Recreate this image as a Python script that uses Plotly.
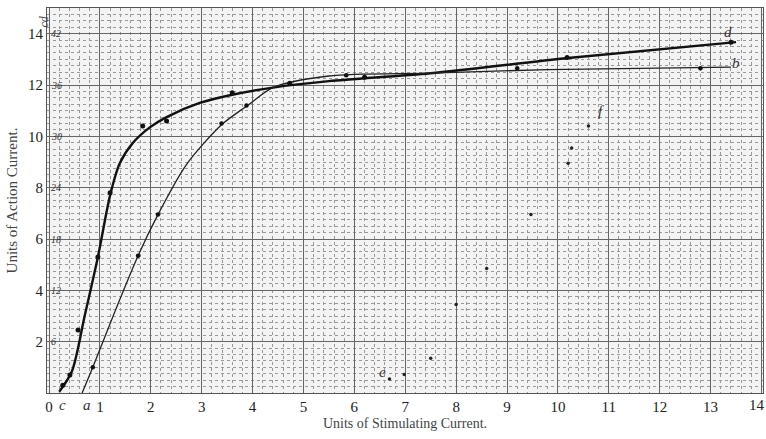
import plotly.graph_objects as go

# Curve c -> d (thick): observed points and drawn curve
c_pts_x = [0.27, 0.41, 0.57, 0.96, 1.2, 1.84, 2.31, 3.6, 4.73, 6.2, 10.18, 13.4]
c_pts_y = [0.3, 0.7, 2.45, 5.3, 7.8, 10.4, 10.6, 11.7, 12.07, 12.3, 13.07, 13.67]
c_line_x = [0.2, 0.45, 0.7, 0.96, 1.2, 1.39, 1.65, 1.98, 2.31, 2.96, 3.6, 4.4, 5.5, 7.5, 10.2, 13.5]
c_line_y = [0.05, 0.85, 3.0, 5.3, 7.7, 8.95, 9.75, 10.35, 10.75, 11.3, 11.62, 11.9, 12.15, 12.46, 13.05, 13.67]

# Curve a -> b (thin)
a_pts_x = [0.86, 1.75, 2.14, 3.39, 3.88, 5.84, 9.2, 12.8]
a_pts_y = [1.0, 5.35, 6.95, 10.5, 11.2, 12.38, 12.65, 12.65]
a_line_x = [0.65, 0.86, 1.3, 1.75, 2.14, 2.7, 3.39, 3.9, 4.4, 5.5, 7.5, 9.8, 13.4]
a_line_y = [0.0, 1.0, 3.2, 5.35, 6.95, 8.9, 10.45, 11.2, 11.9, 12.35, 12.46, 12.6, 12.7]

# Scattered points e -> f
ef_x = [6.69, 6.98, 7.5, 8.0, 8.6, 9.47, 10.2, 10.27, 10.6]
ef_y = [0.55, 0.72, 1.35, 3.45, 4.85, 6.95, 8.95, 9.55, 10.4]

y_ticks = [2, 4, 6, 8, 10, 12, 14]
y_tick_text = ["2", "4", "6", "8", "10", "12", "14"]
y2_tick_text = ["6", "12", "18", "24", "30", "36", "42"]
x_ticks = list(range(0, 15))

serif = "Liberation Serif, DejaVu Serif, serif"

fig = go.Figure()
fig.add_trace(go.Scatter(x=c_line_x, y=c_line_y, mode="lines", line=dict(color="#111", width=2.4, shape="spline", smoothing=0.8), hoverinfo="skip"))
fig.add_trace(go.Scatter(x=a_line_x, y=a_line_y, mode="lines", line=dict(color="#222", width=1.3, shape="spline", smoothing=0.8), hoverinfo="skip"))
fig.add_trace(go.Scatter(x=c_pts_x, y=c_pts_y, mode="markers", marker=dict(color="#111", size=5)))
fig.add_trace(go.Scatter(x=a_pts_x, y=a_pts_y, mode="markers", marker=dict(color="#111", size=4.5)))
fig.add_trace(go.Scatter(x=ef_x, y=ef_y, mode="markers", marker=dict(color="#222", size=3.5)))

# secondary scale labels just inside the left edge
for yv, txt in zip(y_ticks, y2_tick_text):
    fig.add_annotation(xref="paper", x=0.003, y=yv, text="<i>" + txt + "</i>", showarrow=False,
                       xanchor="left", font=dict(family=serif, size=10, color="#333"))

# last x tick label (would be clipped at the page edge as a normal tick label)
fig.add_annotation(x=x_ticks[-1], yref="paper", y=0, yanchor="top", yshift=-2, xshift=-4,
                   text=str(x_ticks[-1]), showarrow=False, font=dict(family=serif, size=15, color="#222"))

# curve letters on the x axis
for t, xv in [("c", 0.27), ("a", 0.75)]:
    fig.add_annotation(x=xv, yref="paper", y=0, yanchor="top", yshift=-2, text="<i>" + t + "</i>",
                       showarrow=False, font=dict(family=serif, size=15, color="#333"))

labels = [("d", 13.35, 14.05), ("b", 13.5, 12.85), ("f", 10.85, 11.0), ("e", 6.55, 0.8)]
for t, x, y in labels:
    fig.add_annotation(x=x, y=y, text="<i>" + t + "</i>", showarrow=False,
                       font=dict(family=serif, size=15, color="#333"))
fig.add_annotation(xref="paper", yref="paper", x=-0.017, y=0.985, text="<i>cd</i>", textangle=-90,
                   showarrow=False, font=dict(family=serif, size=12, color="#444"))

fig.update_layout(
    width=766, height=439,
    margin=dict(l=47, r=3, t=8, b=46),
    paper_bgcolor="white", plot_bgcolor="#f3f3f3",
    showlegend=False,
    font=dict(family=serif, color="#333"),
    xaxis=dict(range=[-0.04, 14.03], tickvals=x_ticks, ticks="", showline=True, linecolor="#555", mirror=True,
               showgrid=True, gridcolor="#666", gridwidth=1, zeroline=False,
               tickfont=dict(family=serif, size=15, color="#222"),
               minor=dict(dtick=0.2, showgrid=True, gridcolor="#999", griddash="dot", gridwidth=1),
               title=dict(text="Units of Stimulating Current.", font=dict(family=serif, size=14, color="#444"), standoff=4)),
    yaxis=dict(range=[0, 15], tickvals=y_ticks, ticktext=y_tick_text, ticks="", showline=True, linecolor="#555",
               mirror=True, showgrid=True, gridcolor="#666", gridwidth=1, zeroline=False,
               tickfont=dict(family=serif, size=15, color="#222"),
               minor=dict(dtick=0.25, showgrid=True, gridcolor="#999", griddash="dot", gridwidth=1),
               title=dict(text="Units of Action Current.", font=dict(family=serif, size=15, color="#444"), standoff=6)),
)

fig.write_html("out.html")
